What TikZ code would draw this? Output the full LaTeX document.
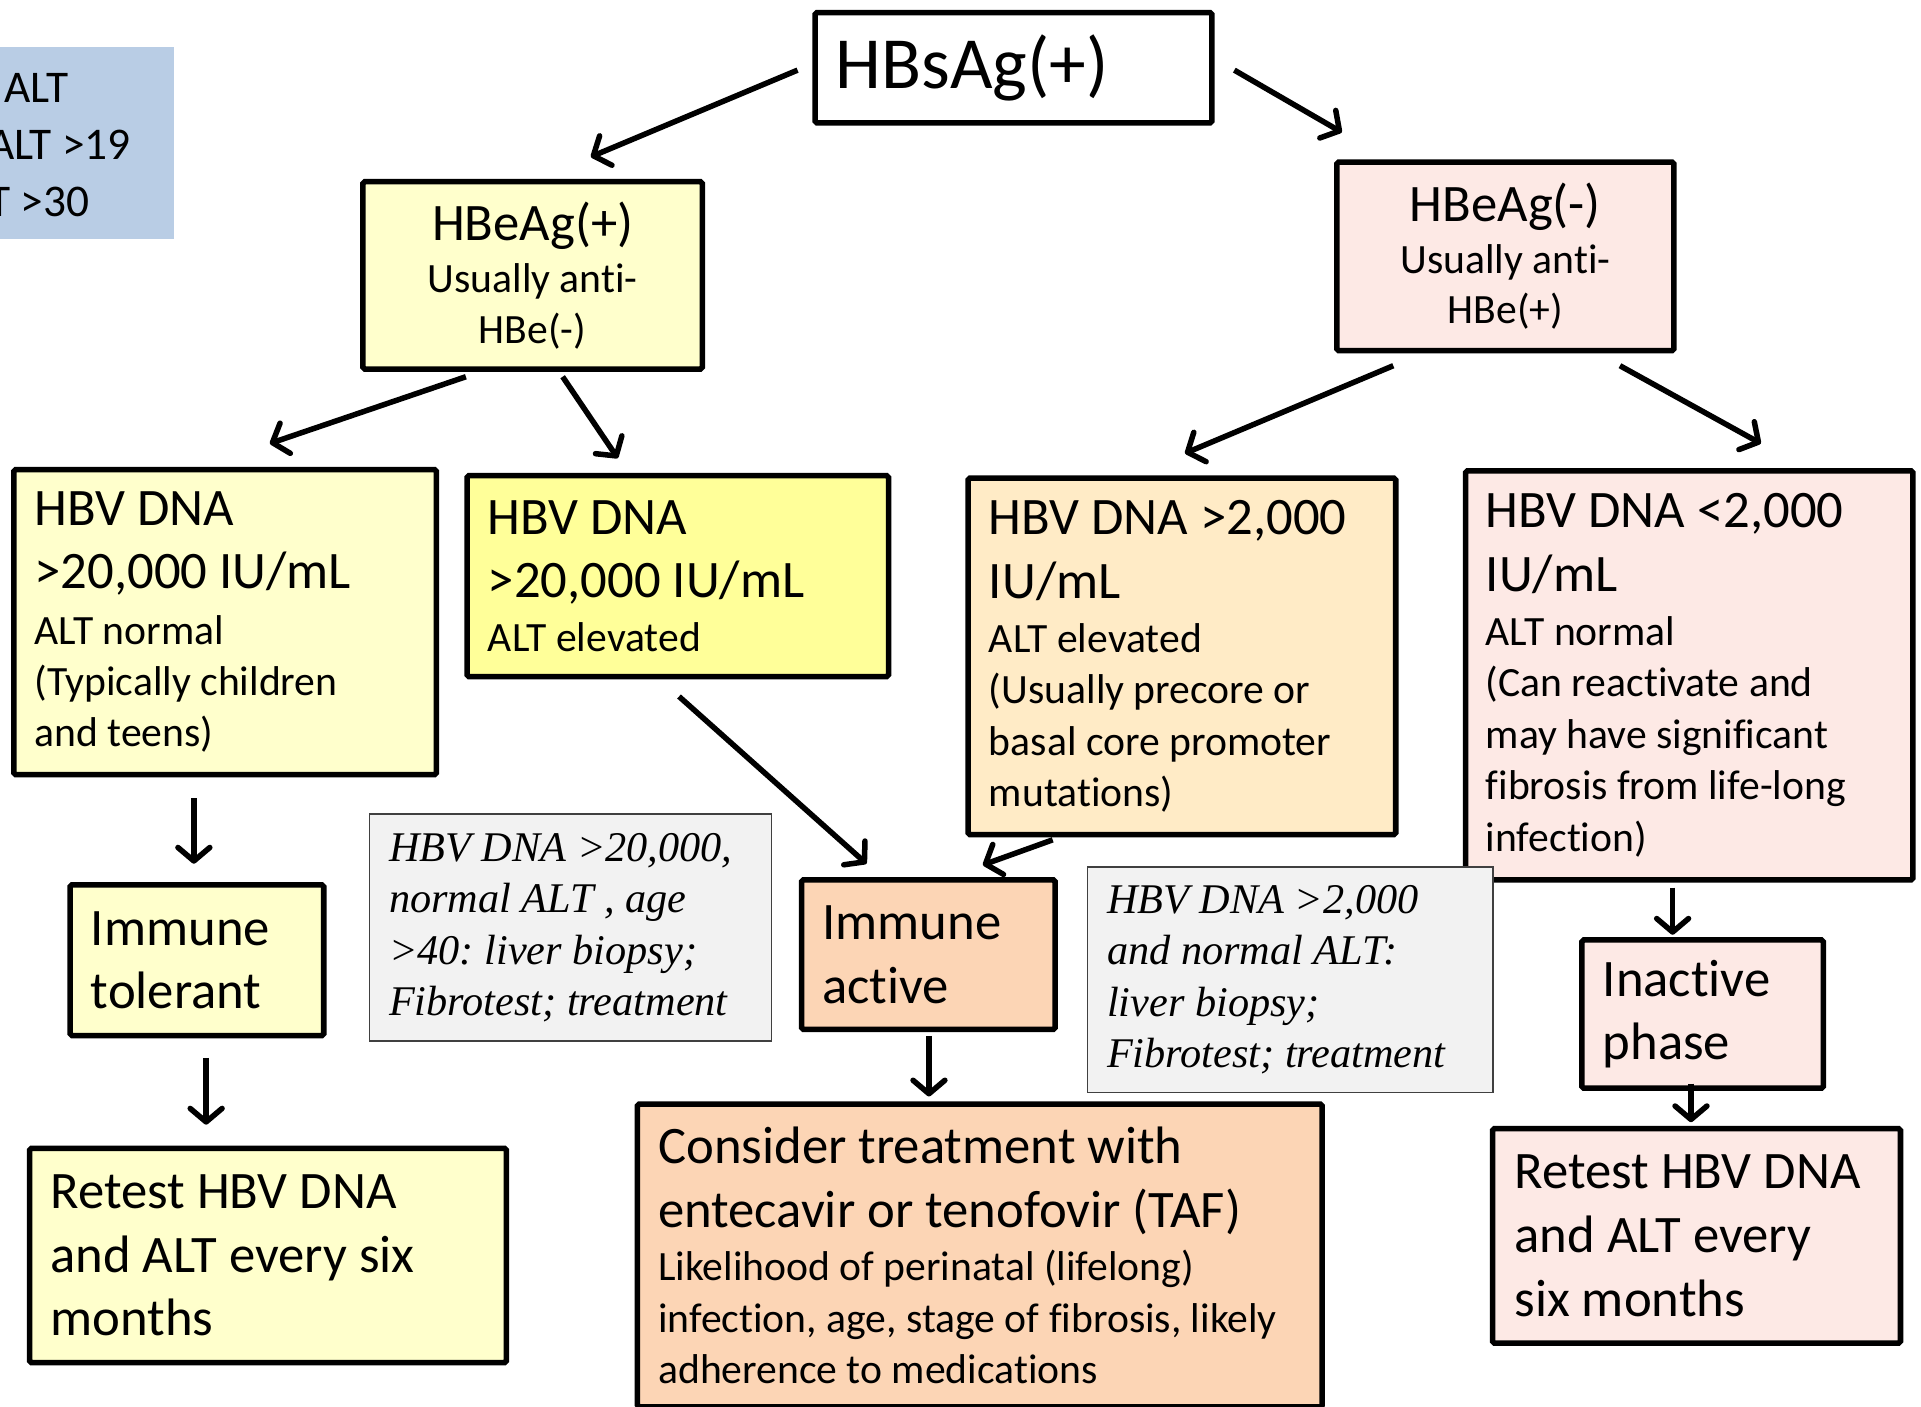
\documentclass[tikz,border=0pt]{standalone}
\usepackage{fontspec}
\setmainfont{Carlito}[Ligatures=CommonOff]
\newfontfamily\tnr{Liberation Serif}[Ligatures=CommonOff]
\usetikzlibrary{arrows.meta,calc}
\frenchspacing
\definecolor{ly}{HTML}{FFFFCC}
\definecolor{yy}{HTML}{FFFF99}
\definecolor{lo}{HTML}{FFEBC6}
\definecolor{pc}{HTML}{FCD5B5}
\definecolor{pk}{HTML}{FDE9E5}
\definecolor{gr}{HTML}{F2F2F2}
\definecolor{bl}{HTML}{B9CDE5}
\newcommand\LB[2][52]{\baselineskip=#1pt\hbox to\hsize{\fontsize{43}{52}\selectfont #2\hfil}}
\newcommand\LS[2][42]{\baselineskip=#1pt\hbox to\hsize{\fontsize{34}{42}\selectfont #2\hfil}}
\newcommand\CB[2][52]{\baselineskip=#1pt\hbox to\hsize{\hfil\fontsize{43}{52}\selectfont #2\hfil}}
\newcommand\CS[2][42]{\baselineskip=#1pt\hbox to\hsize{\hfil\fontsize{34}{42}\selectfont #2\hfil}}
\newcommand\LI[2][42]{\baselineskip=#1pt\hbox to\hsize{\fontsize{34.5}{42}\tnr\itshape #2\hfil}}
\newcommand\TB[2]{\vbox{\hsize=#1pt #2}}
\tikzset{
  bx/.style={draw=black, line width=4.5pt, rounded corners=1.5pt, inner sep=0pt, anchor=north west},
  gbx/.style={draw=black!75, fill=gr, line width=1.3pt, inner sep=0pt, anchor=north west},
  arr/.style={line width=4.5pt, -{Straight Barb[length=11pt,width=26pt,round]}},
  lg/.style={anchor=base east, inner sep=0pt, font=\fontsize{37}{44}\selectfont}
}
\begin{document}
\begin{tikzpicture}[x=1pt,y=-1pt]
\useasboundingbox (0,0) rectangle (1568,1148);
% legend (cut at page edge)
\node[fill=bl, minimum width=152pt, minimum height=157pt, anchor=north west, inner sep=0pt] (legend) at (-10,38) {};
\node[lg] (l1) at (56,84) {ALT};
\node[lg] (l2) at (107,130) {ALT >19};
\node[lg] (l3) at (73,177) {T >30};
% boxes
\node[bx, fill=white, minimum width=324pt, minimum height=90pt] (hbs) at (663,8)
  {\TB{290}{\hbox to\hsize{\fontsize{60}{72}\selectfont HBsAg(+)\hfil}}};
\node[bx, fill=ly, minimum width=277pt, minimum height=153pt] (hbep) at (294,146)
  {\TB{247}{\CB{HBeAg(+)}\CS[43]{Usually anti-}\CS[41]{HBe(-)}}};
\node[bx, fill=pk, minimum width=275pt, minimum height=154pt] (hbem) at (1089,130)
  {\TB{245}{\CB{HBeAg(-)}\CS[42]{Usually anti-}\CS[41]{HBe(+)}}};
\node[bx, fill=ly, minimum width=345pt, minimum height=249pt] (a) at (9,381)
  {\TB{311}{\LB{HBV DNA}\LB{>20,000 IU/mL}\LS[45]{ALT normal}\LS{(Typically children}\LS{and teens)}}};
\node[bx, fill=yy, minimum width=344pt, minimum height=164pt] (b) at (379,386)
  {\TB{310}{\LB{HBV DNA}\LB{>20,000 IU/mL}\LS[44]{ALT elevated}}};
\node[bx, fill=lo, minimum width=349pt, minimum height=291pt] (c) at (788,388)
  {\TB{315}{\LB{HBV DNA >2,000}\LB{IU/mL}\LS[44]{ALT elevated}\LS{(Usually precore or}\LS{basal core promoter}\LS{mutations)}}};
\node[bx, fill=pk, minimum width=365pt, minimum height=334pt] (d) at (1194,382)
  {\TB{332}{\LB{HBV DNA <2,000}\LB{IU/mL}\LS[44]{ALT normal}\LS{(Can reactivate and}\LS{may have significant}\LS{fibrosis from life-long}\LS{infection)}}};
\node[bx, fill=ly, minimum width=207pt, minimum height=123pt] (it) at (55,720)
  {\TB{173}{\LB{Immune}\LB{tolerant}}};
\node[bx, fill=pc, minimum width=207pt, minimum height=122pt] (ia) at (652,716)
  {\TB{173}{\LB{Immune}\LB{active}}};
\node[bx, fill=pk, minimum width=197pt, minimum height=121pt] (ip) at (1289,765)
  {\TB{163}{\LB{Inactive}\LB{phase}}};
\node[gbx, minimum width=328pt, minimum height=185pt] (g1) at (301,664)
  {\TB{296}{\LI{HBV DNA >20,000,}\LI{normal ALT , age}\LI{>40: liver biopsy;}\LI{Fibrotest; treatment}}};
\node[gbx, minimum width=331pt, minimum height=184pt] (g2) at (887,707)
  {\TB{299}{\LI{HBV DNA >2,000}\LI{and normal ALT:}\LI{liver biopsy;}\LI{Fibrotest; treatment}}};
\node[bx, fill=ly, minimum width=389pt, minimum height=175pt] (rl) at (22,935)
  {\TB{355}{\LB{Retest HBV DNA}\LB{and ALT every six}\LB{months}}};
\node[bx, fill=pc, minimum width=559pt, minimum height=247pt] (ct) at (518,899)
  {\TB{525}{\LB{Consider treatment with}\LB{entecavir or tenofovir (TAF)}\LS[44]{Likelihood of perinatal (lifelong)}\LS{infection, age, stage of fibrosis, likely}\LS{adherence to medications}}};
\node[bx, fill=pk, minimum width=333pt, minimum height=175pt] (rr) at (1216,919)
  {\TB{297}{\LB{Retest HBV DNA}\LB{and ALT every}\LB{six months}}};
% connectors
\draw[arr] ($(hbs.west)+(-12,2)$) -- ($(hbep.north)+(47.5,-18)$);
\draw[arr] ($(hbs.east)+(16,2)$) -- ($(hbem.north)+(-133.5,-22)$);
\draw[arr] ($(hbep.south)+(-54.5,4)$) -- ($(a.north)+(36.5,-19)$);
\draw[arr] ($(hbep.south)+(24.5,4)$) -- ($(b.north)+(-49,-12)$);
\draw[arr] ($(hbem.south)+(-91.5,10)$) -- ($(c.north)+(2.5,-18)$);
\draw[arr] ($(hbem.south)+(93.5,10)$) -- ($(d.north)+(58.5,-20)$);
\draw[arr] ($(a.south)+(-25.5,17)$) -- ($(it.north)+(-2.5,-15)$);
\draw[arr] ($(it.south)+(7.5,16)$) -- ($(rl.north)+(-50.5,-17)$);
\draw[arr] ($(b.south)+(1,14)$) -- ($(ia.north)+(-50.5,-11)$);
\draw[arr] ($(c.south)+(-105.5,2)$) -- ($(ia.north)+(44.5,-10)$);
\draw[arr] ($(ia.south)+(0.5,3)$) -- ($(ct.north)+(-41.5,-4)$);
\draw[arr] ($(d.south)+(-13.5,4)$) -- ($(ip.north)+(-24.5,-2)$);
\draw[arr] ($(ip.south)+(-9.5,-6)$) -- ($(rr.north)+(-4.5,-3)$);
\end{tikzpicture}
\end{document}
